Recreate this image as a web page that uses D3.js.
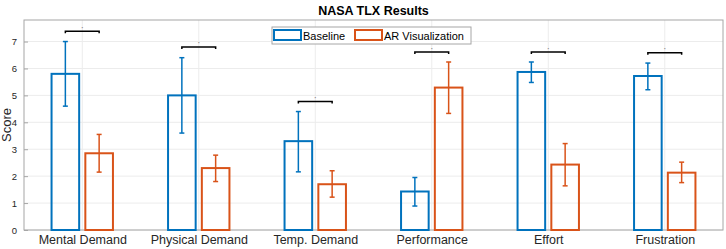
<!DOCTYPE html>
<html>
<head>
<meta charset="utf-8">
<script src="https://cdn.jsdelivr.net/npm/d3@7"></script>
<style>
  body { margin: 0; background: #fff; }
  svg { font-family: "Liberation Sans", Arial, sans-serif; }
</style>
</head>
<body>
<svg id="chart" width="726" height="249"></svg>
<script>
// data
const categories = ["Mental Demand", "Physical Demand", "Temp. Demand", "Performance", "Effort", "Frustration"];
const seriesNames = ["Baseline", "AR Visualization"];
const baselineMean = [5.8, 5.0, 3.3, 1.43, 5.87, 5.72];
const baselineLow  = [4.6, 3.6, 2.16, 0.89, 5.48, 5.21];
const baselineHigh = [7.0, 6.4, 4.4, 1.95, 6.24, 6.2];
const arMean = [2.85, 2.3, 1.7, 5.29, 2.43, 2.13];
const arLow  = [2.15, 1.8, 1.22, 4.33, 1.64, 1.76];
const arHigh = [3.55, 2.78, 2.2, 6.24, 3.21, 2.52];
const sigLevel = [7.38, 6.8, 4.77, 6.61, 6.61, 6.58];
const yTicks = [0, 1, 2, 3, 4, 5, 6, 7];

const colors = ["#0072BD", "#D95319"];
const W = 726, H = 249;
const margin = {left: 24, right: 3, top: 20, bottom: 19};

const svg = d3.select("#chart");

const x = d3.scaleLinear().domain([0.5, 6.5]).range([margin.left, W - margin.right]);
const y = d3.scaleLinear().domain([0, 7.8]).range([H - margin.bottom, margin.top]);

const barW = 0.237, off = 0.145;

// grid
const g = svg.append("g");
g.selectAll(".hgrid").data(yTicks).enter().append("line")
  .attr("x1", x(0.5)).attr("x2", x(6.5))
  .attr("y1", d => y(d)).attr("y2", d => y(d))
  .attr("stroke", "#ececec").attr("stroke-width", 1);
g.selectAll(".vgrid").data(categories).enter().append("line")
  .attr("x1", (d, i) => x(i + 1)).attr("x2", (d, i) => x(i + 1))
  .attr("y1", y(0)).attr("y2", y(7.8))
  .attr("stroke", "#ececec").attr("stroke-width", 1);

// axis box
svg.append("rect")
  .attr("x", x(0.5)).attr("y", y(7.8))
  .attr("width", x(6.5) - x(0.5)).attr("height", y(0) - y(7.8))
  .attr("fill", "none").attr("stroke", "#a6a6a6").attr("stroke-width", 1);

// y axis
const yAxis = d3.axisLeft(y).tickValues(yTicks).tickSize(-4).tickPadding(7);
const ya = svg.append("g").attr("transform", `translate(${x(0.5)},0)`).call(yAxis);
ya.select(".domain").remove();
ya.selectAll(".tick line").attr("stroke", "#a6a6a6");
ya.selectAll(".tick text").attr("font-size", 9.5).attr("fill", "#262626")
  .attr("font-family", "Liberation Sans, Arial, sans-serif");

// x axis
const xAxis = d3.axisBottom(x).tickValues(d3.range(1, 7)).tickFormat(d => categories[d - 1]).tickSize(0).tickPadding(5);
const xa = svg.append("g").attr("transform", `translate(0,${y(0)})`).call(xAxis);
xa.select(".domain").remove();
xa.selectAll(".tick text").attr("font-size", 12.5).attr("fill", "#262626")
  .attr("font-family", "Liberation Sans, Arial, sans-serif");

// y label
svg.append("text")
  .attr("transform", `translate(11,${y(3.9)}) rotate(-90)`)
  .attr("text-anchor", "middle").attr("font-size", 13).attr("fill", "#262626")
  .text("Score");

// title
svg.append("text")
  .attr("x", (x(0.5) + x(6.5)) / 2).attr("y", 15)
  .attr("text-anchor", "middle").attr("font-size", 12.5).attr("font-weight", "bold")
  .attr("fill", "#000").text("NASA TLX Results");

// bars + error bars
const series = [
  {mean: baselineMean, low: baselineLow, high: baselineHigh, dx: -off},
  {mean: arMean, low: arLow, high: arHigh, dx: off}
];
series.forEach((s, k) => {
  const sg = svg.append("g");
  sg.selectAll("rect").data(s.mean).enter().append("rect")
    .attr("x", (d, i) => x(i + 1 + s.dx - barW / 2))
    .attr("y", d => y(d))
    .attr("width", x(barW) - x(0))
    .attr("height", d => y(0) - y(d))
    .attr("fill", "none").attr("stroke", colors[k]).attr("stroke-width", 2);
  sg.selectAll(".err").data(s.mean).enter().append("line")
    .attr("x1", (d, i) => x(i + 1 + s.dx)).attr("x2", (d, i) => x(i + 1 + s.dx))
    .attr("y1", (d, i) => y(s.low[i])).attr("y2", (d, i) => y(s.high[i]))
    .attr("stroke", colors[k]).attr("stroke-width", 1.5);
  [s.low, s.high].forEach(arr => {
    sg.selectAll(null).data(arr).enter().append("line")
      .attr("x1", (d, i) => x(i + 1 + s.dx) - 2.5).attr("x2", (d, i) => x(i + 1 + s.dx) + 2.5)
      .attr("y1", d => y(d)).attr("y2", d => y(d))
      .attr("stroke", colors[k]).attr("stroke-width", 1.5);
  });
});

// significance brackets
const sig = svg.append("g");
sigLevel.forEach((v, i) => {
  const x1 = x(i + 1 - off), x2 = x(i + 1 + off), yy = y(v);
  sig.append("path")
    .attr("d", `M${x1},${yy + 2}V${yy}H${x2}V${yy + 2}`)
    .attr("fill", "none").attr("stroke", "#000").attr("stroke-width", 1.5);
  sig.append("text")
    .attr("x", x(i + 1)).attr("y", yy - 1.5)
    .attr("text-anchor", "middle").attr("font-size", 4).attr("fill", "#333")
    .text("*");
});

// legend
const lg = svg.append("g");
lg.append("rect").attr("x", 272).attr("y", 27).attr("width", 199).attr("height", 17)
  .attr("fill", "#fff").attr("stroke", "#a6a6a6").attr("stroke-width", 1);
const lx = [274, 355];
seriesNames.forEach((name, k) => {
  lg.append("rect").attr("x", lx[k]).attr("y", 30).attr("width", 27).attr("height", 10)
    .attr("fill", "none").attr("stroke", colors[k]).attr("stroke-width", 2);
  lg.append("text").attr("x", lx[k] + 29).attr("y", 39.5)
    .attr("font-size", 11).attr("fill", "#000").text(name);
});
</script>
</body>
</html>
